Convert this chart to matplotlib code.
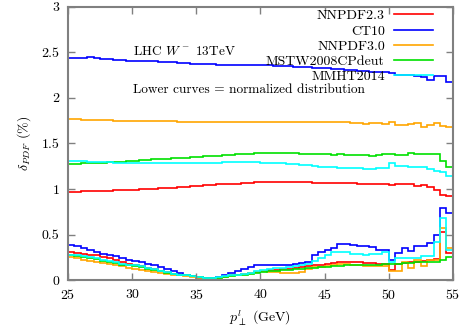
import numpy as np
import matplotlib
matplotlib.use("Agg")
import matplotlib.pyplot as plt

plt.rcParams['font.family'] = 'cmr10'
plt.rcParams['mathtext.fontset'] = 'cm'
plt.rcParams['axes.formatter.use_mathtext'] = True

# bins of 0.5 GeV from 25 to 55
edges = np.arange(25.0, 55.01, 0.5)

# upper curves: PDF uncertainty (%)
nnpdf23 = [0.97, 0.97, 0.98, 0.98, 0.98, 0.98, 0.98, 0.99, 0.99, 0.99,
           0.99, 1.00, 1.00, 1.00, 1.01, 1.01, 1.01, 1.02, 1.02, 1.03,
           1.03, 1.04, 1.04, 1.05, 1.05, 1.06, 1.06, 1.07, 1.07, 1.08,
           1.08, 1.08, 1.08, 1.08, 1.08, 1.08, 1.08, 1.08, 1.07, 1.07,
           1.07, 1.07, 1.07, 1.07, 1.07, 1.06, 1.06, 1.06, 1.05, 1.06,
           1.04, 1.06, 1.05, 1.06, 1.03, 1.04, 1.02, 0.99, 0.93, 0.92]
ct10 = [2.44, 2.44, 2.44, 2.45, 2.44, 2.43, 2.43, 2.42, 2.42, 2.41,
        2.41, 2.40, 2.40, 2.40, 2.39, 2.39, 2.39, 2.38, 2.38, 2.37,
        2.37, 2.37, 2.37, 2.36, 2.36, 2.36, 2.36, 2.36, 2.36, 2.36,
        2.36, 2.36, 2.35, 2.35, 2.35, 2.34, 2.34, 2.34, 2.33, 2.33,
        2.33, 2.32, 2.32, 2.31, 2.31, 2.30, 2.30, 2.29, 2.29, 2.28,
        2.27, 2.25, 2.25, 2.25, 2.24, 2.23, 2.20, 2.24, 2.24, 2.18]
nnpdf30 = [1.77, 1.77, 1.76, 1.76, 1.76, 1.76, 1.76, 1.75, 1.75, 1.75,
           1.75, 1.75, 1.75, 1.75, 1.75, 1.75, 1.75, 1.74, 1.74, 1.74,
           1.74, 1.74, 1.74, 1.74, 1.74, 1.74, 1.74, 1.74, 1.74, 1.74,
           1.74, 1.74, 1.74, 1.73, 1.73, 1.73, 1.73, 1.73, 1.73, 1.73,
           1.73, 1.73, 1.73, 1.74, 1.72, 1.72, 1.71, 1.72, 1.72, 1.71,
           1.73, 1.70, 1.70, 1.71, 1.72, 1.68, 1.70, 1.72, 1.69, 1.68]
mstw = [1.27, 1.27, 1.28, 1.28, 1.29, 1.29, 1.30, 1.30, 1.30, 1.31,
        1.31, 1.32, 1.32, 1.33, 1.33, 1.33, 1.34, 1.34, 1.34, 1.35,
        1.35, 1.36, 1.36, 1.36, 1.37, 1.37, 1.38, 1.38, 1.38, 1.39,
        1.39, 1.39, 1.39, 1.39, 1.39, 1.39, 1.38, 1.38, 1.38, 1.38,
        1.38, 1.37, 1.38, 1.37, 1.37, 1.37, 1.37, 1.36, 1.37, 1.38,
        1.38, 1.37, 1.37, 1.39, 1.38, 1.38, 1.38, 1.38, 1.31, 1.24]
mmht = [1.31, 1.31, 1.31, 1.30, 1.30, 1.30, 1.30, 1.29, 1.29, 1.29,
        1.29, 1.28, 1.28, 1.28, 1.28, 1.28, 1.28, 1.28, 1.28, 1.28,
        1.28, 1.29, 1.29, 1.29, 1.30, 1.30, 1.30, 1.30, 1.30, 1.30,
        1.29, 1.29, 1.28, 1.28, 1.27, 1.27, 1.26, 1.26, 1.25, 1.24,
        1.24, 1.24, 1.23, 1.23, 1.23, 1.23, 1.22, 1.22, 1.23, 1.23,
        1.28, 1.25, 1.25, 1.24, 1.24, 1.24, 1.22, 1.20, 1.19, 1.14]

# lower curves: normalized distribution
nnpdf23_n = [0.31, 0.30, 0.29, 0.28, 0.27, 0.25, 0.24, 0.22, 0.20, 0.18,
             0.16, 0.15, 0.13, 0.12, 0.10, 0.09, 0.07, 0.06, 0.05, 0.04,
             0.03, 0.02, 0.02, 0.03, 0.04, 0.05, 0.06, 0.07, 0.08, 0.09,
             0.10, 0.11, 0.11, 0.12, 0.12, 0.13, 0.14, 0.15, 0.16, 0.17,
             0.18, 0.19, 0.20, 0.20, 0.20, 0.20, 0.19, 0.19, 0.18, 0.18,
             0.11, 0.18, 0.19, 0.20, 0.20, 0.21, 0.22, 0.23, 0.53, 0.30]
ct10_n = [0.385, 0.37, 0.35, 0.33, 0.31, 0.29, 0.28, 0.26, 0.24, 0.22,
          0.21, 0.20, 0.18, 0.16, 0.14, 0.12, 0.10, 0.08, 0.06, 0.04,
          0.025, 0.02, 0.02, 0.03, 0.05, 0.08, 0.10, 0.12, 0.14, 0.16,
          0.17, 0.17, 0.16, 0.16, 0.17, 0.18, 0.19, 0.20, 0.28, 0.31,
          0.33, 0.35, 0.40, 0.40, 0.39, 0.37, 0.37, 0.36, 0.33, 0.33,
          0.22, 0.30, 0.35, 0.32, 0.37, 0.37, 0.41, 0.49, 0.79, 0.74]
nnpdf30_n = [0.25, 0.24, 0.22, 0.21, 0.20, 0.19, 0.18, 0.16, 0.15, 0.13,
             0.12, 0.11, 0.10, 0.09, 0.08, 0.07, 0.06, 0.05, 0.04, 0.03,
             0.02, 0.01, 0.01, 0.02, 0.03, 0.05, 0.06, 0.07, 0.08, 0.09,
             0.10, 0.09, 0.09, 0.08, 0.08, 0.08, 0.09, 0.12, 0.14, 0.14,
             0.15, 0.17, 0.18, 0.18, 0.17, 0.16, 0.15, 0.15, 0.15, 0.15,
             0.10, 0.10, 0.20, 0.13, 0.22, 0.15, 0.22, 0.22, 0.57, 0.35]
mstw_n = [0.27, 0.26, 0.25, 0.24, 0.23, 0.21, 0.20, 0.19, 0.17, 0.16,
          0.15, 0.14, 0.12, 0.11, 0.10, 0.08, 0.07, 0.06, 0.05, 0.04,
          0.03, 0.02, 0.02, 0.02, 0.03, 0.04, 0.05, 0.06, 0.07, 0.08,
          0.09, 0.10, 0.10, 0.11, 0.11, 0.12, 0.12, 0.13, 0.13, 0.14,
          0.14, 0.15, 0.15, 0.16, 0.16, 0.16, 0.17, 0.17, 0.17, 0.18,
          0.18, 0.18, 0.19, 0.19, 0.20, 0.20, 0.20, 0.20, 0.22, 0.25]
mmht_n = [0.28, 0.27, 0.26, 0.25, 0.24, 0.22, 0.21, 0.20, 0.18, 0.17,
          0.16, 0.15, 0.13, 0.12, 0.10, 0.09, 0.07, 0.06, 0.05, 0.04,
          0.03, 0.02, 0.02, 0.03, 0.04, 0.05, 0.06, 0.07, 0.08, 0.10,
          0.11, 0.12, 0.13, 0.13, 0.14, 0.15, 0.16, 0.18, 0.21, 0.24,
          0.27, 0.31, 0.31, 0.31, 0.29, 0.29, 0.28, 0.29, 0.29, 0.31,
          0.20, 0.24, 0.24, 0.24, 0.24, 0.26, 0.26, 0.42, 0.68, 0.33]

labels = ['NNPDF2.3', 'CT10', 'NNPDF3.0', 'MSTW2008CPdeut', 'MMHT2014']
colors = ['#ff0000', '#0000ff', '#ffa500', '#00e000', '#00ffff']
upper = [nnpdf23, ct10, nnpdf30, mstw, mmht]
lower = [nnpdf23_n, ct10_n, nnpdf30_n, mstw_n, mmht_n]

fig = plt.figure(figsize=(4.63, 3.26), dpi=100)
ax = fig.add_axes([0.147, 0.141, 0.831, 0.838])

for vals, c, lab in zip(upper, colors, labels):
    ax.stairs(vals, edges, color=c, lw=1.2, baseline=None, label=lab)
for vals, c in zip(lower, colors):
    ax.stairs(vals, edges, color=c, lw=1.2, baseline=None)

ax.set_xlim(25, 55)
ax.set_ylim(0, 3)
ax.set_xticks([25, 30, 35, 40, 45, 50, 55])
ax.set_yticks([0, 0.5, 1, 1.5, 2, 2.5, 3])
ax.set_yticklabels(['0', '0.5', '1', '1.5', '2', '2.5', '3'])
ax.tick_params(direction='in', top=True, right=True, length=5, width=1,
               color='#808080', labelsize=10, pad=6)
for s in ax.spines.values():
    s.set_color('#808080')
    s.set_linewidth(1.5)

ax.set_xlabel(r'$p_\perp^l$ (GeV)', fontsize=10, labelpad=4)
ax.set_ylabel(r'$\delta_{PDF}$ (%)', fontsize=10, labelpad=6)

ax.text(0.169, 0.835, r'LHC $W^-$ 13TeV', transform=ax.transAxes,
        fontsize=9.6, va='center', ha='left')
ax.text(0.169, 0.695, 'Lower curves = normalized distribution',
        transform=ax.transAxes, fontsize=9.6, va='center', ha='left')

ax.legend(loc='upper right', bbox_to_anchor=(0.955, 1.0), frameon=False,
          markerfirst=False, fontsize=10, handlelength=2.8,
          handletextpad=0.65, labelspacing=0.18, borderpad=0.2,
          borderaxespad=0)

fig.savefig('out.png', dpi=100)
